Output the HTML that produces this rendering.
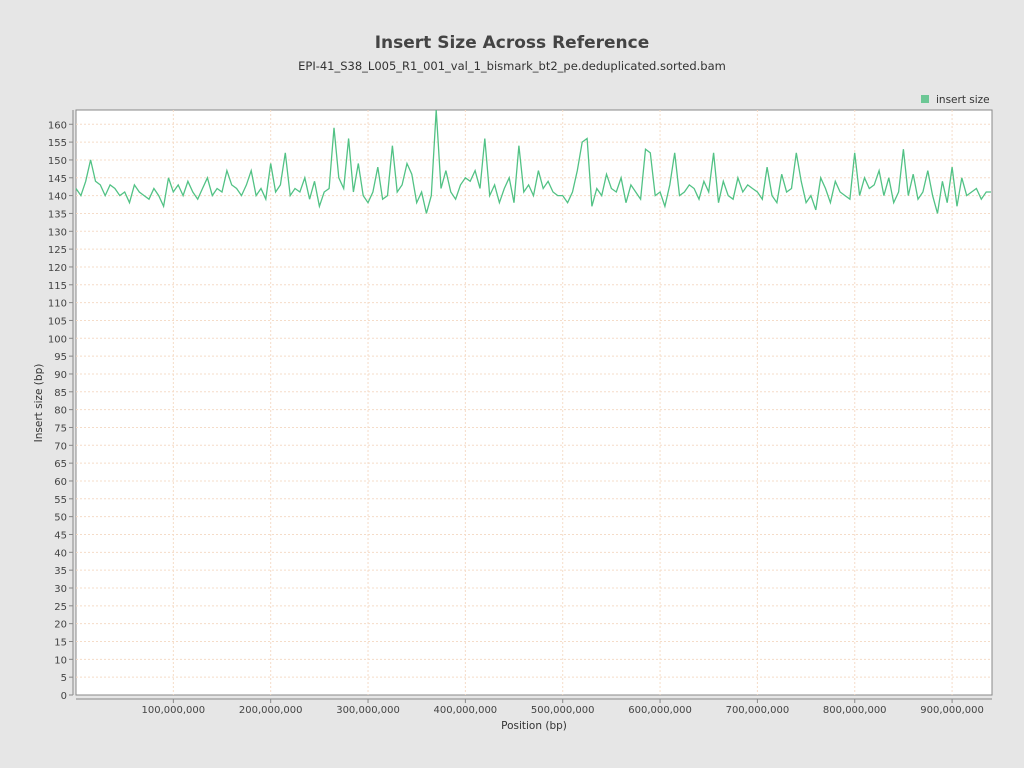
<!DOCTYPE html>
<html><head><meta charset="utf-8"><style>
body{margin:0;background:#e6e6e6;font-family:"DejaVu Sans","Liberation Sans",sans-serif;}
svg{display:block}
</style></head><body>
<svg id="c" width="1024" height="768" xmlns="http://www.w3.org/2000/svg">
<rect width="1024" height="768" fill="#e6e6e6"/>
<text x="512" y="48" text-anchor="middle" font-size="17" font-weight="bold" fill="#444">Insert Size Across Reference</text>
<text x="512" y="70" text-anchor="middle" font-size="11.5" fill="#333">EPI-41_S38_L005_R1_001_val_1_bismark_bt2_pe.deduplicated.sorted.bam</text>
<g><rect x="921" y="95" width="8" height="8" fill="#6cc795"/><text x="936" y="103" font-size="10.5" fill="#333">insert size</text></g>
<rect x="76" y="110" width="916" height="585" fill="#fff" stroke="#888"/>
<g id="grid"></g><g id="axes"></g><g id="series"></g>
<text x="534" y="729" text-anchor="middle" font-size="10.5" fill="#333">Position (bp)</text>
<text transform="translate(42,403) rotate(-90)" text-anchor="middle" font-size="10.5" fill="#333">Insert size (bp)</text>
</svg>
<script>
const stepBp = 5000000;
const values = [
142,140,144,150,144,143,140,143,142,140,141,138,143,141,140,139,142,140,137,145,
141,143,140,144,141,139,142,145,140,142,141,147,143,142,140,143,147,140,142,139,
149,141,143,152,140,142,141,145,139,144,137,141,142,159,145,142,156,141,149,140,
138,141,148,139,140,154,141,143,149,146,138,141,135,140,164,142,147,141,139,143,
145,144,147,142,156,140,143,138,142,145,138,154,141,143,140,147,142,144,141,140,
140,138,141,147,155,156,137,142,140,146,142,141,145,138,143,141,139,153,152,140,
141,137,143,152,140,141,143,142,139,144,141,152,138,144,140,139,145,141,143,142,
141,139,148,140,138,146,141,142,152,144,138,140,136,145,142,138,144,141,140,139,
152,140,145,142,143,147,140,145,138,141,153,140,146,139,141,147,140,135,144,138,
148,137,145,140,141,142,139,141,141];
const xTicks = [100000000,200000000,300000000,400000000,500000000,600000000,700000000,800000000,900000000];
const xTickLabels = ["100,000,000","200,000,000","300,000,000","400,000,000","500,000,000","600,000,000","700,000,000","800,000,000","900,000,000"];
const yMax = 164, xMax = 941000000;
const L=76,R=992,T=110,B=695;
const X=v=>L+(v/xMax)*(R-L), Y=v=>B-(v/yMax)*(B-T);
const ns="http://www.w3.org/2000/svg";
function mk(t,a,p){const e=document.createElementNS(ns,t);for(const k in a)e.setAttribute(k,a[k]);p.appendChild(e);return e;}
const grid=document.getElementById('grid'),axes=document.getElementById('axes'),ser=document.getElementById('series');
mk('line',{x1:73,y1:T,x2:73,y2:B,stroke:'#888'},axes);
mk('line',{x1:L,y1:699,x2:R,y2:699,stroke:'#888'},axes);
for(let v=5;v<=160;v+=5){const y=Y(v);
 const g=mk('line',{x1:L,y1:y,x2:R,y2:y,stroke:'#f5dcc8','stroke-dasharray':'2,2','stroke-width':1},grid);
 
 
}
for(let v=0;v<=160;v+=5){const y=Y(v);
 mk('line',{x1:69,y1:y,x2:73,y2:y,stroke:'#888'},axes);
 const t=mk('text',{x:67,y:y+4,'text-anchor':'end','font-size':10,fill:'#444'},axes);t.textContent=v;
 
 
}
xTicks.forEach((v,i)=>{const x=X(v);
 const g=mk('line',{x1:x,y1:T,x2:x,y2:B,stroke:'#f5dcc8','stroke-dasharray':'2,2'},grid);
 
 
 mk('line',{x1:x,y1:699,x2:x,y2:703,stroke:'#888'},axes);
 const t=mk('text',{x:x,y:713,'text-anchor':'middle','font-size':10,fill:'#444'},axes);t.textContent=xTickLabels[i];
 
 
});
const pts=values.map((v,i)=>X(i*stepBp).toFixed(1)+','+Y(Math.min(v,yMax)).toFixed(1)).join(' ');
const pl=mk('polyline',{points:pts,fill:'none',stroke:'#52c285','stroke-width':1.3},ser);


</script>
</body></html>
